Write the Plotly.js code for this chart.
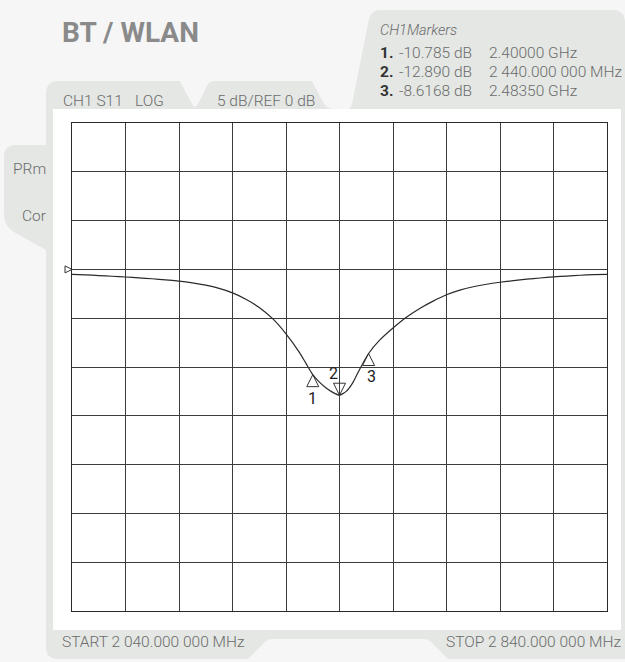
<!DOCTYPE html>
<html><head><meta charset="utf-8">
<script src="https://cdn.plot.ly/plotly-3.0.1.min.js"></script>
<style>html,body{margin:0;padding:0;background:#f6f6f6;}#chart{width:625px;height:662px;}</style>
</head><body><div id="chart"></div>
<script>
// ---- data ----
const freqMHz = [2040, 2060, 2080, 2100, 2120, 2140, 2160, 2180, 2200, 2220, 2240, 2260, 2280, 2300, 2320, 2340, 2360, 2380, 2390, 2400, 2410, 2420, 2430, 2440, 2450, 2460, 2470, 2483.5, 2500, 2520, 2540, 2560, 2580, 2600, 2620, 2640, 2660, 2680, 2700, 2720, 2740, 2760, 2780, 2800, 2820, 2840];
const s11dB = [-0.50, -0.56, -0.63, -0.70, -0.78, -0.87, -0.96, -1.07, -1.20, -1.38, -1.62, -1.95, -2.40, -3.05, -3.90, -5.05, -6.60, -8.50, -9.65, -10.785, -11.55, -12.15, -12.60, -12.89, -12.50, -11.60, -10.25, -8.6168, -7.25, -6.00, -4.90, -4.00, -3.25, -2.60, -2.12, -1.78, -1.52, -1.32, -1.15, -1.00, -0.88, -0.77, -0.68, -0.60, -0.54, -0.50];
const markerIds = ['1', '2', '3'];
const markerFreqMHz = [2400, 2440, 2483.5];
const markerDB = [-10.785, -12.890, -8.6168];
const markerValueText = ['-10.785 dB', '-12.890 dB', '-8.6168 dB'];
const markerFreqText = ['2.40000 GHz', '2 440.000 000 MHz', '2.48350 GHz'];
const startMHz = 2040, stopMHz = 2840;
const refDB = 0, dbPerDiv = 5, nDiv = 10, refDivFromTop = 3;

// ---- layout helpers (pixel -> paper) ----
const W = 625, H = 662, PL = 72, PR = 607, PT = 123, PB = 611;
const px = x => (x - PL) / (PR - PL);
const py = y => (PB - y) / (PB - PT);
function path(cmds) {
  return cmds.map(c => {
    if (c[0] === 'Z') return 'Z';
    if (c[0] === 'Q') return 'Q' + px(c[1]) + ',' + py(c[2]) + ' ' + px(c[3]) + ',' + py(c[4]);
    return c[0] + px(c[1]) + ',' + py(c[2]);
  }).join(' ');
}
const panelGrey = '#e4e7e4';
const panelPath = path([
  ['M', 46, 94], ['Q', 46, 81, 58, 81], ['L', 180, 81], ['L', 192, 104], ['Q', 195, 109, 198, 104],
  ['L', 207, 86], ['Q', 209, 81, 215, 81], ['L', 312, 81], ['L', 323, 102], ['Q', 327, 109, 334, 109],
  ['L', 347, 109], ['Q', 351, 109, 352, 104], ['L', 369, 19], ['Q', 371, 10, 381, 10], ['L', 612, 10],
  ['Q', 625, 10, 625, 23], ['L', 625, 659], ['L', 448, 659], ['L', 431, 642], ['Q', 428, 639, 424, 639],
  ['L', 272, 639], ['Q', 268, 639, 265, 642], ['L', 248, 659], ['L', 58, 659], ['Q', 46, 659, 46, 647],
  ['L', 46, 250], ['L', 14, 232], ['Q', 4, 226, 4, 214], ['L', 4, 157], ['Q', 4, 145, 16, 145],
  ['L', 46, 145], ['Z']
]);
const shapes = [
  {type: 'path', xref: 'paper', yref: 'paper', path: panelPath, fillcolor: panelGrey, line: {width: 0}, layer: 'below'},
  {type: 'rect', xref: 'paper', yref: 'paper', x0: px(53), x1: px(621), y0: py(630), y1: py(109), fillcolor: '#ffffff', line: {width: 0}, layer: 'below'}
];

const txtFont = 'Roboto, "Open Sans", sans-serif';
const grey = '#6b6b6b';
function lbl(text, x, y, opts) {
  return Object.assign({xref: 'paper', yref: 'paper', x: px(x), y: py(y), text: text, showarrow: false,
    xanchor: 'left', yanchor: 'middle', font: {family: txtFont, size: 15.5, color: grey, weight: 300}}, opts || {});
}
const annotations = [
  lbl('BT / WLAN', 60, 32, {font: {family: txtFont, size: 28, color: '#8a8a8a', weight: 700}}),
  lbl('<i>CH1Markers</i>', 378, 31, {font: {family: txtFont, size: 14.5, color: grey, weight: 300}}),
  lbl('CH1 S11', 61, 101),
  lbl('LOG', 133, 101),
  lbl('5 dB/REF 0 dB', 215, 101),
  lbl('PRm', 48, 169, {xanchor: 'right'}),
  lbl('Cor', 48, 216, {xanchor: 'right'}),
  lbl('START 2 040.000 000 MHz', 60, 642),
  lbl('STOP 2 840.000 000 MHz', 623, 642, {xanchor: 'right'})
];
const rowY = [53, 72, 91];
markerIds.forEach((id, i) => {
  annotations.push(lbl('<b>' + id + '.</b>', 378, rowY[i], {font: {family: txtFont, size: 15.5, color: '#333', weight: 700}}));
  annotations.push(lbl(markerValueText[i], 397, rowY[i]));
  annotations.push(lbl(markerFreqText[i], 487, rowY[i]));
});
// marker number labels next to the triangles
const labelShift = [[0, -24], [-6, 22], [3, -23]];
markerIds.forEach((id, i) => {
  annotations.push({xref: 'x', yref: 'y', x: markerFreqMHz[i], y: markerDB[i], text: id, showarrow: false,
    xshift: labelShift[i][0], yshift: labelShift[i][1], xanchor: 'center', yanchor: 'middle',
    font: {family: txtFont, size: 16, color: '#222', weight: 400}});
});

const topDB = refDB + refDivFromTop * dbPerDiv;
const botDB = topDB - nDiv * dbPerDiv;
const markerSymbols = markerIds.map((id, i) => i === 1 ? 'arrow-down-open' : 'arrow-up-open');

const traces = [
  {type: 'scatter', mode: 'lines', x: freqMHz, y: s11dB, line: {color: '#2a2a2a', width: 1.2, shape: 'spline', smoothing: 0.5}, hoverinfo: 'skip'},
  {type: 'scatter', mode: 'markers', x: markerFreqMHz, y: markerDB, cliponaxis: false,
    marker: {symbol: markerSymbols, size: 12, color: '#333', line: {color: '#333', width: 1}}, hoverinfo: 'skip'},
  {type: 'scatter', mode: 'markers', x: [startMHz], y: [refDB], cliponaxis: false,
    marker: {symbol: 'arrow-right-open', size: 7, color: '#333', line: {color: '#333', width: 1}}, hoverinfo: 'skip'}
];

const axisCommon = {showticklabels: false, ticks: '', showgrid: true, gridcolor: '#3c3c3c', gridwidth: 1,
  showline: true, mirror: true, linecolor: '#2a2a2a', linewidth: 1.2, zeroline: false, fixedrange: true};
const layout = {
  width: W, height: H, margin: {l: PL, r: W - PR, t: PT, b: H - PB, pad: 0},
  paper_bgcolor: '#f6f6f6', plot_bgcolor: 'rgba(0,0,0,0)', showlegend: false,
  xaxis: Object.assign({range: [startMHz, stopMHz], tick0: startMHz, dtick: (stopMHz - startMHz) / nDiv}, axisCommon),
  yaxis: Object.assign({range: [botDB, topDB], tick0: refDB, dtick: dbPerDiv}, axisCommon),
  shapes: shapes, annotations: annotations
};
Plotly.newPlot('chart', traces, layout, {staticPlot: true, displayModeBar: false});
</script></body></html>
